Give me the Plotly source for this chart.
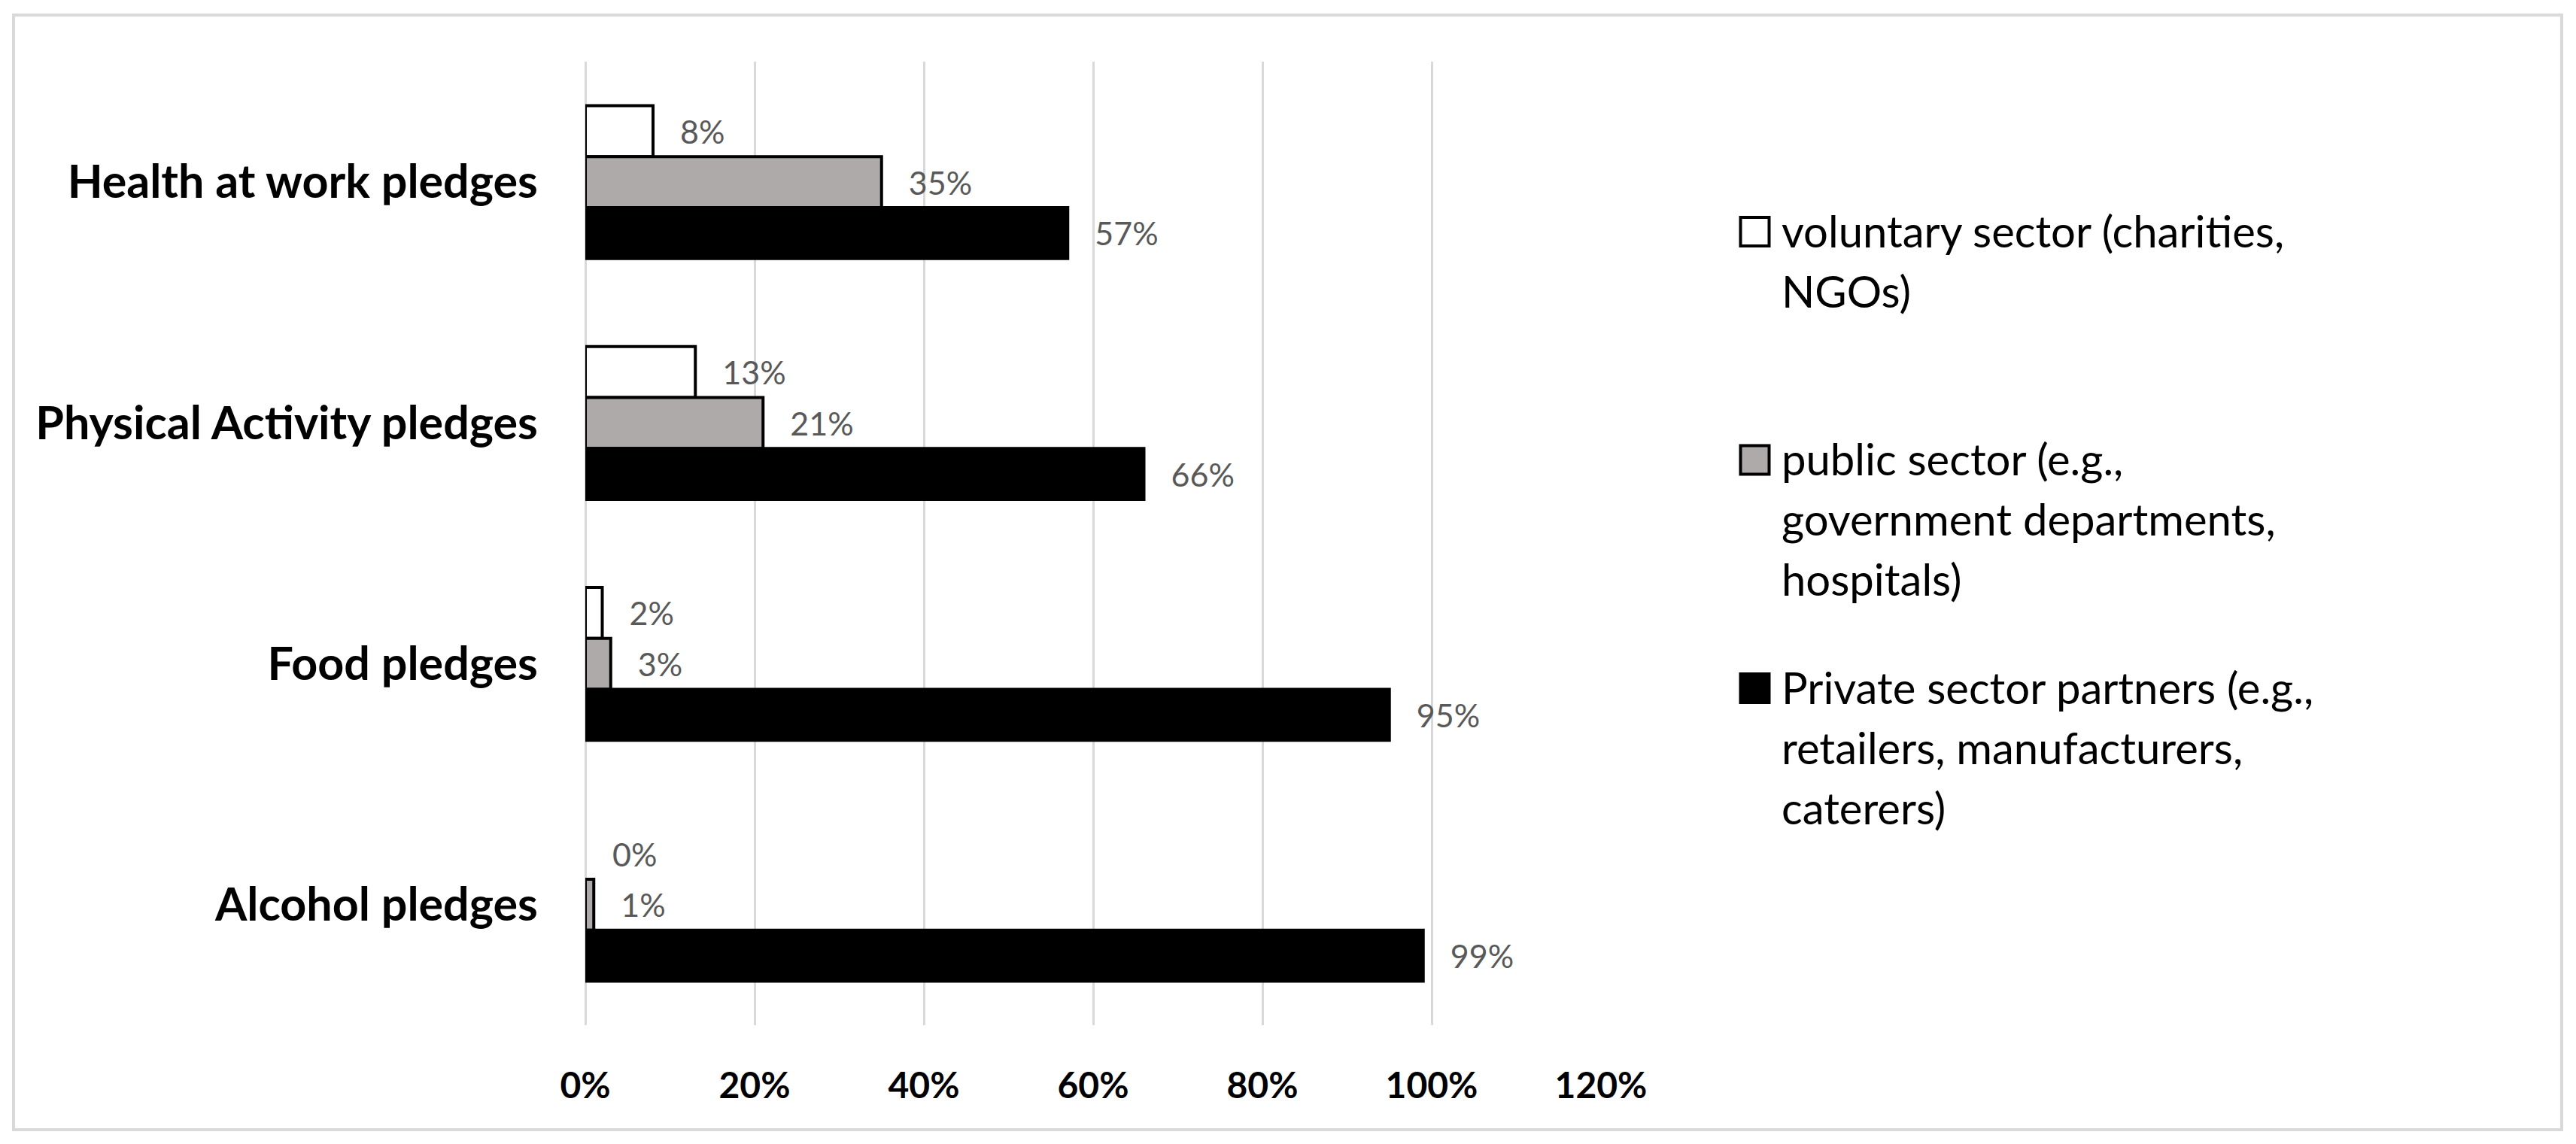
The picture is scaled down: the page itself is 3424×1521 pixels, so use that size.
import plotly.graph_objects as go

# data
categories = ["Health at work pledges", "Physical Activity pledges", "Food pledges", "Alcohol pledges"]
voluntary = [0.08, 0.13, 0.02, 0.00]
public = [0.35, 0.21, 0.03, 0.01]
private = [0.57, 0.66, 0.95, 0.99]
series_labels = [
    "voluntary sector (charities,<br>NGOs)",
    "public sector (e.g.,<br>government departments,<br>hospitals)",
    "Private sector partners (e.g.,<br>retailers, manufacturers,<br>caterers)",
]
x_ticks = [0, 0.2, 0.4, 0.6, 0.8, 1.0, 1.2]

fills = ["#FFFFFF", "#AEAAAA", "#000000"]
FONT = "Lato"

# canvas / plot area in pixels
W, H = 3424, 1521
L, R, T, B = 778, 1296, 82, 158
PW, PH = W - L - R, H - T - B


def px_x(px):
    return (px - L) / PW


def px_y(py):
    return (H - B - py) / PH


fig = go.Figure()

for label, vals, fill in zip(series_labels, [voluntary, public, private], fills):
    fig.add_trace(go.Bar(
        y=categories,
        x=vals,
        orientation="h",
        name=label.replace("<br>", " "),
        # no outline on empty bars (0%)
        marker=dict(color=fill, line=dict(color="#000000", width=[4 if v > 0 else 0 for v in vals])),
        texttemplate="\u00a0\u00a0\u00a0%{x:.0%}",
        textposition="outside",
        textfont=dict(family=FONT, size=43, color="#595959"),
        constraintext="none",
        cliponaxis=False,
        showlegend=False,
    ))

# outer chart border
shapes = [dict(
    type="rect", xref="paper", yref="paper",
    x0=px_x(18), x1=px_x(3405), y0=px_y(1502), y1=px_y(20),
    line=dict(color="#D9D9D9", width=4), layer="below",
)]

# hand-made legend (big squares like the original)
annotations = []
item_step = 303.5
line_step = 80
for i, (label, fill) in enumerate(zip(series_labels, fills)):
    shapes.append(dict(
        type="rect", xref="paper", yref="paper",
        xsizemode="pixel", ysizemode="pixel",
        xanchor=px_x(2332.5), yanchor=px_y(308 + i * item_step),
        x0=-19, x1=19, y0=-19, y1=19,
        fillcolor=fill, line=dict(color="#000000", width=4),
    ))
    for j, line in enumerate(label.split("<br>")):
        annotations.append(dict(
            xref="paper", yref="paper",
            x=px_x(2366), y=px_y(306 + i * item_step + j * line_step),
            xanchor="left", yanchor="middle",
            text=line, showarrow=False,
            font=dict(family=FONT, size=58, color="#000000"),
        ))

fig.update_layout(
    width=W, height=H, autosize=False,
    margin=dict(l=L, r=R, t=T, b=B, pad=0),
    paper_bgcolor="white", plot_bgcolor="white",
    barmode="group", bargap=0.365, bargroupgap=0,
    shapes=shapes, annotations=annotations,
    xaxis=dict(
        range=[0, 1.2], tickvals=x_ticks, tickformat=".0%",
        showgrid=True, gridcolor="#D9D9D9", gridwidth=3,
        zeroline=True, zerolinecolor="#D9D9D9", zerolinewidth=3,
        ticks="outside", ticklen=38, tickcolor="rgba(0,0,0,0)",
        tickfont=dict(family=FONT, size=48, color="#000000", weight="bold"),
        showline=False,
    ),
    yaxis=dict(
        autorange="reversed", showgrid=False, zeroline=False, showline=False,
        ticks="outside", ticklen=50, tickcolor="rgba(0,0,0,0)",
        tickfont=dict(family=FONT, size=61, color="#000000", weight="bold"),
    ),
)

# drop the default body margin so the chart sits at the page corner
fig.write_html(
    "out.html",
    config={"displayModeBar": False},
    post_script="document.body.style.margin = '0';",
)
